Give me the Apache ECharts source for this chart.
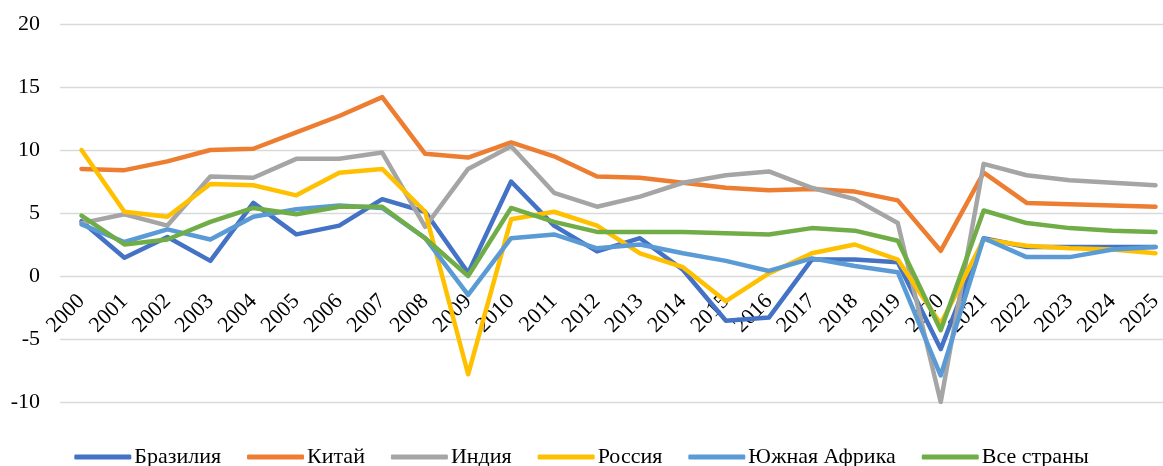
<!DOCTYPE html>
<html>
<head>
<meta charset="utf-8">
<script src="https://cdn.jsdelivr.net/npm/echarts@6/dist/echarts.min.js"></script>
<style>
	html, body { margin: 0; padding: 0; background: #fff; }
	#chartDiv { width: 1163px; height: 466px; }
</style>
</head>
<body>
<div id="chartDiv"></div>
<script>
	// годы
	var years = ['2000', '2001', '2002', '2003', '2004', '2005', '2006', '2007', '2008', '2009',
		'2010', '2011', '2012', '2013', '2014', '2015', '2016', '2017', '2018', '2019',
		'2020', '2021', '2022', '2023', '2024', '2025'];
	var brazil = [4.35, 1.45, 3.1, 1.2, 5.8, 3.3, 4.0, 6.1, 5.1, 0.25, 7.5, 4.0, 1.95, 3.0, 0.5, -3.55, -3.3, 1.3, 1.3, 1.1, -5.8, 3.0, 2.3, 2.3, 2.3, 2.3];
	var china = [8.5, 8.4, 9.1, 10.0, 10.1, 11.4, 12.7, 14.2, 9.7, 9.4, 10.6, 9.5, 7.9, 7.8, 7.4, 7.0, 6.8, 6.9, 6.7, 6.0, 2.0, 8.2, 5.8, 5.7, 5.6, 5.5];
	var india = [4.2, 4.9, 4.0, 7.9, 7.8, 9.3, 9.3, 9.8, 3.9, 8.5, 10.3, 6.6, 5.5, 6.3, 7.4, 8.0, 8.3, 7.0, 6.1, 4.2, -10.0, 8.9, 8.0, 7.6, 7.4, 7.2];
	var russia = [10.0, 5.1, 4.7, 7.3, 7.2, 6.4, 8.2, 8.5, 5.1, -7.8, 4.5, 5.1, 4.0, 1.8, 0.7, -2.0, 0.2, 1.8, 2.5, 1.3, -3.8, 2.9, 2.4, 2.2, 2.1, 1.8];
	var safrica = [4.1, 2.7, 3.7, 2.9, 4.7, 5.3, 5.6, 5.4, 3.0, -1.5, 3.0, 3.3, 2.2, 2.5, 1.8, 1.2, 0.4, 1.4, 0.8, 0.3, -7.9, 3.0, 1.5, 1.5, 2.1, 2.3];
	var world = [4.8, 2.5, 2.9, 4.3, 5.4, 4.9, 5.5, 5.5, 3.0, 0.0, 5.4, 4.3, 3.5, 3.5, 3.5, 3.4, 3.3, 3.8, 3.6, 2.8, -4.3, 5.2, 4.2, 3.8, 3.6, 3.5];

	var names = ['Бразилия', 'Китай', 'Индия', 'Россия', 'Южная Африка', 'Все страны'];
	var colors = ['#4472C4', '#ED7D31', '#A5A5A5', '#FFC000', '#5B9BD5', '#70AD47'];
	var values = [brazil, china, india, russia, safrica, world];

	var font = 'Liberation Serif';
	var yMin = -10, yMax = 20;
	// grid 0 - весь график, grid 1 - только подписи годов на линии нуля
	var plotTop = 24, plotHeight = 378;
	var zeroTop = plotHeight * yMax / (yMax - yMin);

	var series = [];
	for (var i = 0; i < names.length; i++) {
		series.push({
			name : names[i],
			type : 'line',
			data : values[i],
			symbol : 'none',
			lineStyle : { width : 4.5, color : colors[i], cap : 'round', join : 'round' },
			itemStyle : { color : colors[i] }
		});
	}

	var chart = echarts.init(document.getElementById('chartDiv'));
	chart.setOption({
		animation : false,
		color : colors,
		grid : [
			{ left : 60, top : plotTop, width : 1117, height : plotHeight, outerBoundsMode : 'none', containLabel : false },
			{ left : 60, top : plotTop, width : 1117, height : zeroTop, outerBoundsMode : 'none', containLabel : false }
		],
		legend : {
			top : 441,
			left : 'center',
			icon : 'roundRect',
			itemWidth : 57,
			itemHeight : 5,
			itemGap : 26,
			textStyle : { fontFamily : font, fontSize : 22, color : '#000', padding : [0, 0, 0, -2] },
			data : names
		},
		xAxis : [{
			type : 'category',
			data : years,
			gridIndex : 0,
			axisLine : { show : false },
			axisTick : { show : false },
			axisLabel : { show : false }
		}, {
			type : 'category',
			data : years,
			gridIndex : 1,
			axisLine : { show : false },
			axisTick : { show : false },
			axisLabel : { interval : 0, rotate : 45, fontFamily : font, fontSize : 22, color : '#000', margin : 22 }
		}],
		yAxis : [{
			type : 'value',
			gridIndex : 0,
			min : yMin,
			max : yMax,
			interval : 5,
			axisLine : { show : false },
			axisTick : { show : false },
			splitLine : { lineStyle : { color : '#d9d9d9', width : 1.3 } },
			axisLabel : { fontFamily : font, fontSize : 22, color : '#000', margin : 20 }
		}, {
			type : 'value',
			gridIndex : 1,
			min : 0,
			max : yMax,
			show : false
		}],
		series : series
	});
</script>
</body>
</html>
